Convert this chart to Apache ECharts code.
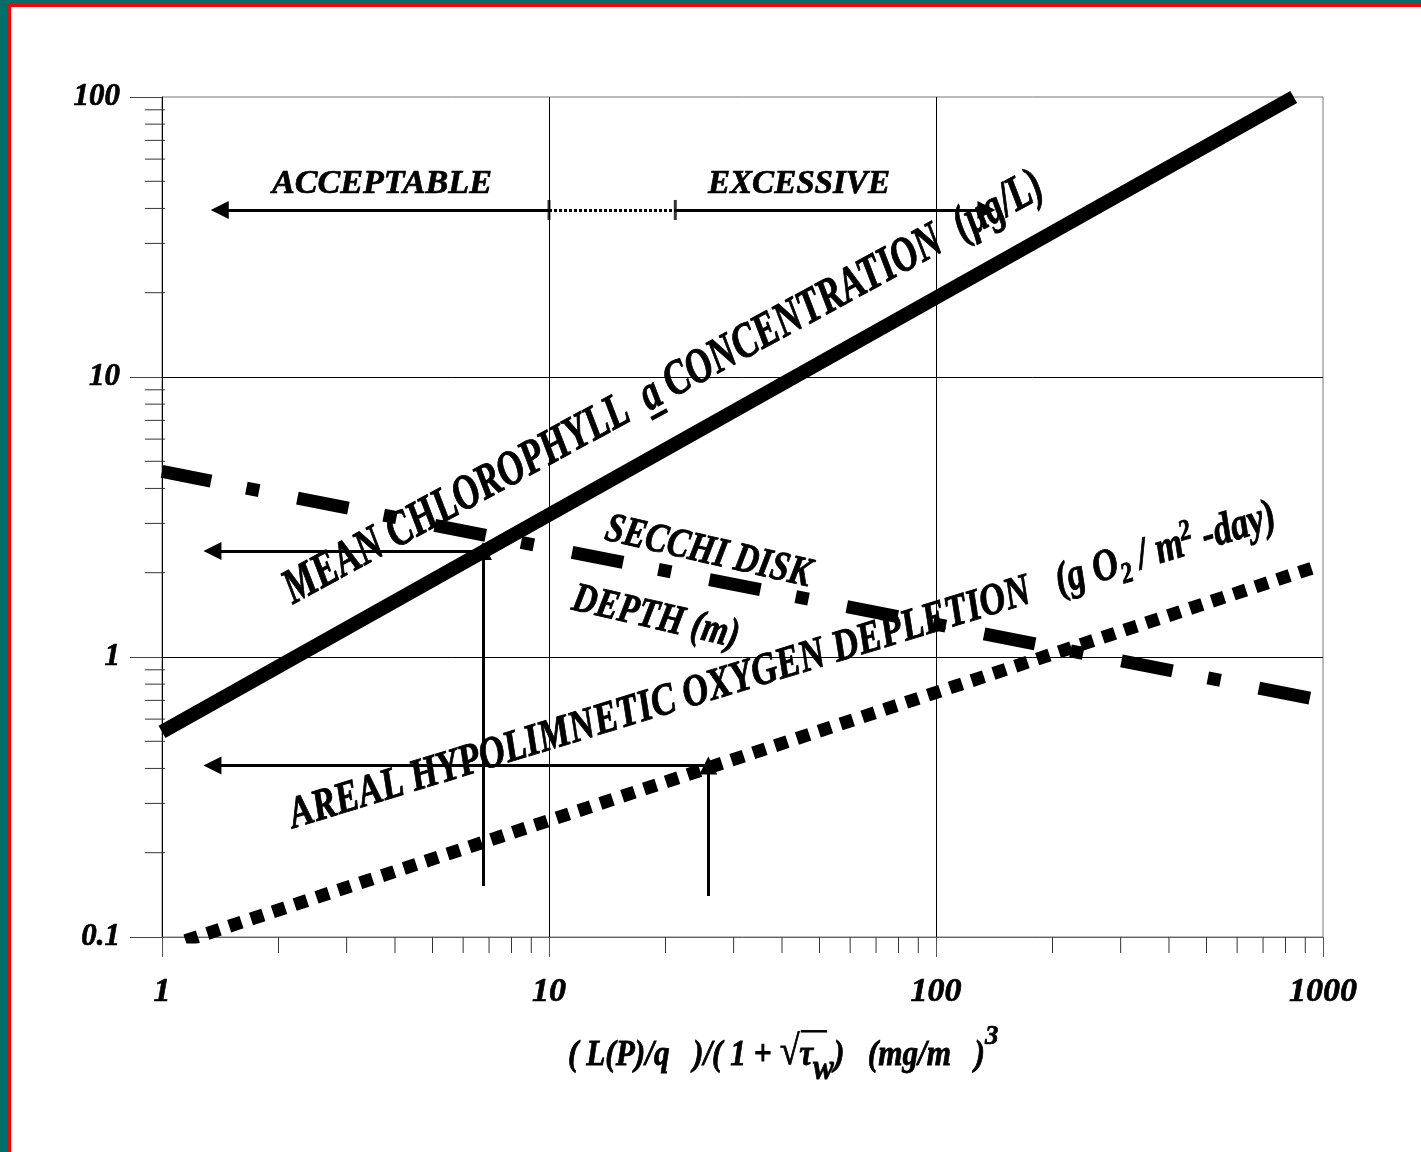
<!DOCTYPE html>
<html>
<head>
<meta charset="utf-8">
<script src="https://cdn.jsdelivr.net/npm/echarts@6/dist/echarts.min.js"></script>
<style>
  html, body { margin: 0; padding: 0; background: #ffffff; }
  #chart { position: absolute; left: 0; top: 0; width: 1421px; height: 1152px; background: #ffffff; }
  .band { position: absolute; }
</style>
</head>
<body>
<div id="chart"></div>
<div class="band" style="left:0;top:0;width:1421px;height:3px;background:#006e69;"></div>
<div class="band" style="left:0;top:0;width:7px;height:1152px;background:#006e69;"></div>
<div class="band" style="left:7px;top:3px;width:1414px;height:4px;background:#ff0000;"></div>
<div class="band" style="left:7px;top:3px;width:4px;height:1149px;background:#ff0000;"></div>
<script>
// ---------------- data ----------------
const xTicks = [1, 10, 100, 1000];
const yTicks = [0.1, 1, 10, 100];
const xMinor = [2, 3, 4, 5, 6, 7, 8, 9, 20, 30, 40, 50, 60, 70, 80, 90, 200, 300, 400, 500, 600, 700, 800, 900];
const yMinor = [0.2, 0.3, 0.4, 0.5, 0.6, 0.7, 0.8, 0.9, 2, 3, 4, 5, 6, 7, 8, 9, 20, 30, 40, 50, 60, 70, 80, 90];

// Mean chlorophyll a (µg/L)
const chlX = [1, 840];
const chlY = [0.54, 100];
// Secchi disk depth (m)
const secchiX = [1, 940];
const secchiY = [4.6, 0.71];
// Areal hypolimnetic oxygen depletion (g O2 / m2-day)
const oxyX = [1.15, 940];
const oxyY = [0.097, 2.08];

// reading arrows
const read1X = 6.75, read1Bottom = 0.152, read1Y = 2.39;
const read2X = 25.8, read2Bottom = 0.14, read2Y = 0.41;
const readLeftX = 1.35;

// acceptable / excessive band
const bandY = 39.5;
const acceptFrom = 10, acceptTo = 1.41;
const excessFrom = 21.2, excessTo = 135;

// ---------------- helpers ----------------
const mctx = document.createElement('canvas').getContext('2d');
const FAM = '"Liberation Serif", "Times New Roman", serif';
function fontStr(s) { return 'italic bold ' + s + 'px ' + FAM; }
function meas(t, s) { mctx.font = fontStr(s); return mctx.measureText(t).width; }

function runsWidth(runs, size) {
  let w = 0;
  runs.forEach(r => { w += (r.gap || 0) * size + meas(r.t, size * (r.k || 1)); });
  return w;
}
function textRun(x, y, deg, runs, size, sy) {
  let cx = 0; const ch = [];
  runs.forEach(r => {
    const s = size * (r.k || 1);
    cx += (r.gap || 0) * size;
    const w = meas(r.t, s);
    ch.push({ type: 'text', x: cx, y: -0.3 * s + (r.dy || 0) * size,
      style: { text: r.t, font: fontStr(s), fill: '#000', stroke: '#000', lineWidth: 0.7,
        verticalAlign: 'middle', align: 'left' } });
    if (r.under) ch.push({ type: 'rect', shape: { x: cx - 0.05 * s, y: 0.08 * s, width: w, height: 0.085 * s }, style: { fill: '#000' } });
    if (r.over) ch.push({ type: 'rect', shape: { x: cx + (r.overDx || 0) * s, y: -1.0 * s, width: w * (r.overW || 1), height: 0.07 * s }, style: { fill: '#000' } });
    cx += w;
  });
  return { type: 'group', x: x, y: y, rotation: deg * Math.PI / 180, scaleY: sy || 1, z: 100, children: ch };
}
function fitRun(x, y, deg, runs, target, sy) {
  const s = target / runsWidth(runs, 1);
  return textRun(x, y, deg, runs, s, sy);
}

// ---------------- chart ----------------
const chart = echarts.init(document.getElementById('chart'), null, { renderer: 'canvas' });

const labelStyle = { fontFamily: FAM, fontStyle: 'italic', fontWeight: 'bold', color: '#000',
  textBorderColor: '#000', textBorderWidth: 0.7 };

function pair(xs, ys) { return xs.map((x, i) => [x, ys[i]]); }

const chlRuns = [
  { t: 'MEAN CHLOROPHYLL  ' },
  { t: 'a', under: true },
  { t: ' CONCENTRATION  (\u00b5g/L)' }
];
const oxyRuns = [
  { t: 'AREAL HYPOLIMNETIC OXYGEN DEPLETION' },
  { t: '(g O', gap: 0.75 },
  { t: '2', k: 0.65, dy: 0.18 },
  { t: ' / m' },
  { t: '2', k: 0.65, dy: -0.35 },
  { t: ' -day)' }
];
const titleRuns = [
  { t: '( L(P)/q   )/( 1 + ' },
  { t: '\u221a', k: 1.15 },
  { t: '\u03c4', over: true, overW: 1.9, overDx: 0.05 },
  { t: 'w', dy: 0.4 },
  { t: ')   (mg/m   )' },
];

const option = {
  animation: false,
  backgroundColor: '#ffffff',
  grid: { left: 162, top: 97, width: 1161, height: 840, show: true, borderColor: '#777', borderWidth: 1, backgroundColor: 'transparent' },
  xAxis: {
    type: 'log', logBase: 10, min: 1, max: 1000,
    axisLine: { show: true, lineStyle: { color: '#666', width: 1 } },
    axisTick: { show: true, length: 20, lineStyle: { color: '#555', width: 1 } },
    minorTick: { show: false },
    splitLine: { show: true, showMinLine: false, showMaxLine: false, lineStyle: { color: '#000', width: 1 } },
    axisLabel: Object.assign({ fontSize: 34, margin: 38, formatter: v => {
      const t = xTicks.find(k => Math.abs(Math.log10(k) - Math.log10(v)) < 1e-6); return t === undefined ? '' : String(t); } }, labelStyle)
  },
  yAxis: {
    type: 'log', logBase: 10, min: 0.1, max: 100,
    axisLine: { show: true, lineStyle: { color: '#000', width: 1 } },
    axisTick: { show: true, length: 32, lineStyle: { color: '#444', width: 1 } },
    splitLine: { show: true, showMinLine: false, showMaxLine: false, lineStyle: { color: '#000', width: 1 } },
    axisLabel: Object.assign({ fontSize: 31, margin: 42, formatter: v => {
      const t = yTicks.find(k => Math.abs(Math.log10(k) - Math.log10(v)) < 1e-6); return t === undefined ? '' : String(t); } }, labelStyle)
  },
  series: [
    {
      type: 'custom', name: 'yMinor', clip: false, silent: true, z: 3,
      data: yMinor.map(v => [1, v]),
      renderItem: (p, api) => {
        const c = api.coord([api.value(0), api.value(1)]);
        return { type: 'line', shape: { x1: c[0] - 17, y1: c[1], x2: c[0] + 3, y2: c[1] }, style: { stroke: '#333', lineWidth: 1 } };
      }
    },
    {
      type: 'custom', name: 'xMinor', clip: false, silent: true, z: 3,
      data: xMinor.map(v => [v, 0.1]),
      renderItem: (p, api) => {
        const c = api.coord([api.value(0), api.value(1)]);
        return { type: 'line', shape: { x1: c[0], y1: c[1], x2: c[0], y2: c[1] + 16 }, style: { stroke: '#333', lineWidth: 1 } };
      }
    },
    {
      type: 'line', name: 'Chlorophyll', data: pair(chlX, chlY), showSymbol: false, symbol: 'none', z: 5,
      lineStyle: { color: '#000', width: 14, cap: 'butt' }
    },
    {
      type: 'line', name: 'Secchi', data: pair(secchiX, secchiY), showSymbol: false, symbol: 'none', z: 4,
      lineStyle: { color: '#000', width: 13, cap: 'butt', type: [52, 36, 13, 39], dashOffset: 2 }
    },
    {
      type: 'line', name: 'Oxygen', data: pair(oxyX, oxyY), showSymbol: false, symbol: 'none', z: 4,
      lineStyle: { color: '#000', width: 13, cap: 'butt', type: [13, 10] }
    },
    {
      type: 'lines', coordinateSystem: 'cartesian2d', z: 6, silent: true,
      symbol: ['none', 'triangle'], symbolSize: [13, 18],
      lineStyle: { color: '#000', width: 3, opacity: 1, curveness: 0 },
      data: [
        { coords: [[read1X, read1Bottom], [read1X, read1Y]] },
        { coords: [[read1X, read1Y], [readLeftX, read1Y]] },
        { coords: [[read2X, read2Bottom], [read2X, read2Y]] },
        { coords: [[read2X, read2Y], [readLeftX, read2Y]] },
        { coords: [[acceptFrom, bandY], [acceptTo, bandY]] },
        { coords: [[excessFrom, bandY], [excessTo, bandY]] }
      ]
    },
    {
      type: 'lines', coordinateSystem: 'cartesian2d', z: 6, silent: true,
      symbol: ['none', 'none'],
      lineStyle: { color: '#000', width: 3, opacity: 1, type: [3, 2] },
      data: [{ coords: [[acceptFrom, bandY], [excessFrom, bandY]] }]
    },
    {
      type: 'scatter', z: 7, silent: true, symbol: 'rect', symbolSize: [3, 20],
      itemStyle: { color: '#000' },
      data: [[acceptFrom, bandY], [excessFrom, bandY]]
    }
  ],
  graphic: [
    fitRun(272, 194, 0, [{ t: 'ACCEPTABLE' }], 220, 1.0),
    fitRun(708, 194, 0, [{ t: 'EXCESSIVE' }], 182, 1.0),
    fitRun(294, 606, 28.5, chlRuns, 858, 1.35),
    fitRun(603, 541, -13, [{ t: 'SECCHI DISK' }], 210, 1.25),
    fitRun(570, 611, -13, [{ t: 'DEPTH (m)' }], 170, 1.25),
    fitRun(294, 830, 17, oxyRuns, 1030, 1.25),
    fitRun(568, 1066, 0, titleRuns, 417, 1.15),
    { type: 'text', x: 985, y: 1024, z: 100, style: { text: '3', font: fontStr(27), fill: '#000', stroke: '#000', lineWidth: 0.7 } }
  ]
};
chart.setOption(option);
</script>
</body>
</html>
